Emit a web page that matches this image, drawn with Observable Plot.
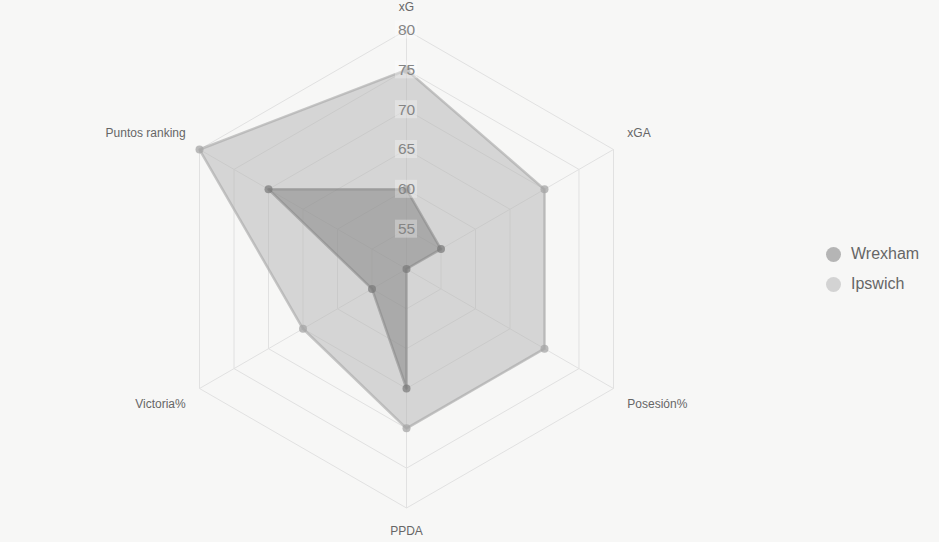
<!DOCTYPE html>
<html>
<head>
<meta charset="utf-8">
<script src="https://cdn.jsdelivr.net/npm/d3@7"></script>
<script src="https://cdn.jsdelivr.net/npm/@observablehq/plot@0.6"></script>
<style>
  html, body { margin: 0; padding: 0; background: #f7f7f6; }
  #wrap { position: relative; width: 939px; height: 542px; font-family: "Liberation Sans", Arial, sans-serif; }
  #legend { position: absolute; left: 826px; top: 239px; }
  .li { display: flex; align-items: center; height: 30px; font-size: 16px; color: #666; }
  .sw { width: 15px; height: 15px; border-radius: 50%; margin-right: 10px; }
</style>
</head>
<body>
<div id="wrap"><div id="chart"></div><div id="legend"></div></div>
<script>
const axes = ["xG", "xGA", "Posesión%", "PPDA", "Victoria%", "Puntos ranking"];
const wrexham = [60, 55, 50, 65, 55, 70];
const ipswich = [75, 70, 70, 70, 65, 80];
const seriesNames = ["Wrexham", "Ipswich"];
const ticks = [55, 60, 65, 70, 75, 80];
const scaleMin = 50, scaleMax = 80;

const W = 939, H = 542, cx = 406, cy = 268.5, R = 239;
const rScale = d3.scaleLinear().domain([scaleMin, scaleMax]).range([0, R]);
const ang = i => i * 2 * Math.PI / axes.length;
const px = (i, v) => rScale(v) * Math.sin(ang(i));
const py = (i, v) => rScale(v) * Math.cos(ang(i));

const styles = {
  Wrexham: {fill: "rgba(128,128,128,0.5)", stroke: "rgba(135,135,135,0.55)", dot: "rgba(120,120,120,0.7)"},
  Ipswich: {fill: "rgba(180,180,180,0.5)", stroke: "rgba(170,170,170,0.65)", dot: "rgba(165,165,165,0.75)"}
};
const seriesData = {Wrexham: wrexham, Ipswich: ipswich};
const polys = [];
for (const s of ["Ipswich", "Wrexham"]) {
  seriesData[s].forEach((v, i) => polys.push({s, i, x: px(i, v), y: py(i, v)}));
}

const grid = [];
for (const t of ticks) {
  for (let i = 0; i <= axes.length; i++) grid.push({t, x: px(i % axes.length, t), y: py(i % axes.length, t)});
}
const spokes = axes.map((a, i) => ({i, x1: 0, y1: 0, x2: px(i, scaleMax), y2: py(i, scaleMax)}));

const LR = 255;
const labels = axes.map((a, i) => {
  const s = Math.sin(ang(i)), c = Math.cos(ang(i));
  const anchor = Math.abs(s) < 0.01 ? "middle" : (s > 0 ? "start" : "end");
  const dy = c > 0.9 ? -7 : c < -0.9 ? 7 : (c > 0 ? -8 : 8);
  return {a, x: LR * s, y: LR * c, anchor, dy};
});

const tickBoxes = ticks.map(t => ({t, x1: -11, x2: 11, y1: rScale(t) + 9, y2: rScale(t) - 9}));

const marks = [
  Plot.line(grid, {x: "x", y: "y", z: "t", stroke: "#e1e1e1", strokeWidth: 1}),
  Plot.link(spokes, {x1: "x1", y1: "y1", x2: "x2", y2: "y2", stroke: "#e1e1e1", strokeWidth: 1})
];
for (const s of ["Ipswich", "Wrexham"]) {
  const d = polys.filter(p => p.s === s);
  marks.push(Plot.line(d, {x: "x", y: "y", curve: "linear-closed", fill: styles[s].fill, stroke: styles[s].stroke, strokeWidth: 2.5, strokeLinejoin: "round"}));
}
for (const s of ["Ipswich", "Wrexham"]) {
  const d = polys.filter(p => p.s === s);
  marks.push(Plot.dot(d, {x: "x", y: "y", r: 4, fill: styles[s].dot, stroke: "none"}));
}
marks.push(
  Plot.rect(tickBoxes, {x1: "x1", x2: "x2", y1: "y1", y2: "y2", fill: "rgba(255,255,255,0.3)"}),
  Plot.text(ticks, {x: 0, y: t => rScale(t), text: t => String(t), fontSize: 15.5, fill: "#858585", textAnchor: "middle"})
);
for (const l of labels) {
  marks.push(Plot.text([l], {x: "x", y: "y", text: "a", textAnchor: l.anchor, dy: l.dy, fontSize: 12, fill: "#666"}));
}

const chart = Plot.plot({
  width: W, height: H,
  margin: 0,
  style: {background: "transparent", fontFamily: "'Liberation Sans', Arial, sans-serif"},
  x: {domain: [-cx, W - cx], range: [0, W], axis: null},
  y: {domain: [cy, cy - H], range: [0, H], axis: null},
  marks
});
document.getElementById("chart").appendChild(chart);

const legendColors = {Wrexham: "#b5b5b5", Ipswich: "#d3d3d3"};
const lg = document.getElementById("legend");
for (const s of seriesNames) {
  const row = document.createElement("div");
  row.className = "li";
  const sw = document.createElement("span");
  sw.className = "sw";
  sw.style.background = legendColors[s];
  row.appendChild(sw);
  row.appendChild(document.createTextNode(s));
  lg.appendChild(row);
}
</script>
</body>
</html>
